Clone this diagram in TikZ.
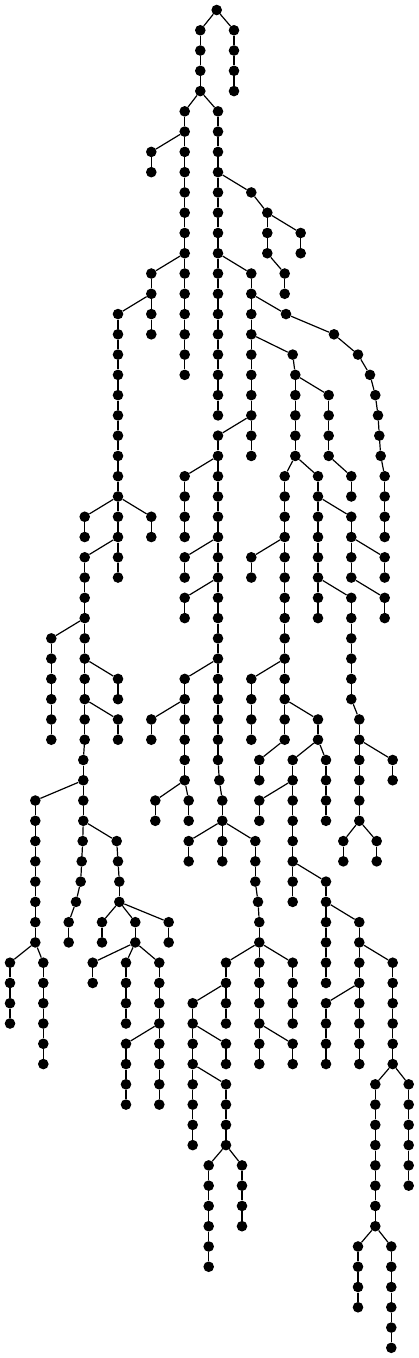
\documentclass[tikz,border=0pt]{standalone}
\usepackage{tikz}
\tikzset{
  dot/.style={circle, fill=black, inner sep=0pt, minimum size=10.6pt},
  edge/.style={line width=1.2pt}
}
% chain of dots: name/x/first row/last row/parent
\def\chains{A/200.3/1/4/R0,
B/234/1/4/R0,
C/184.7/5/18/A4,
D/218/5/20/A4,
E/151.3/7/8/C6,
F/251.3/9/9/D8,
G/267.3/10/12/F9,
H/300.7/11/12/G10,
I/284.7/13/14/G12,
J/151.3/13/14/C12,
K/118/15/24/J14,
L/151.3/15/16/J14,
M/251.3/13/22/D12,
Na/286/15/15/M14,
Nb/334/16/16/Na15,
Nc/358/17/17/Nb16,
Nd/370/18/18/Nc17,
Ne/375.3/19/19/Nd18,
Nf/378/20/20/Ne19,
Ng/379.3/21/21/Nf20,
Nh/380.7/22/22/Ng21,
Ni/384.7/23/26/Nh22,
O/292.7/17/17/M16,
P/295.3/18/22/O17,
Q/328.7/19/22/P18,
S/218/21/37/M20,
Sa/219.3/38/38/S37,
Sb/222.3/39/40/Sa38,
T/184.7/23/26/S22,
U/284.7/23/36/P22,
V/318/23/30/P22,
W/351.3/23/24/Q22,
X/84.7/25/26/K24,
Y/118/25/28/K24,
Z/151.3/25/26/K24,
AB/351.3/25/28/V24,
AC/84.7/27/36/Y26,
ACa/83.3/37/40/AC36,
ACb/82.7/41/41/ACa40,
ACc/81.7/42/42/ACb41,
ACd/80.7/43/43/ACc42,
ACe/76/44/44/ACd43,
ACf/68.7/45/46/ACe44,
AD/184.7/27/28/S26,
AE/251.3/27/28/U26,
AF/384.7/27/28/AB26,
AG/184.7/29/30/S28,
AH/351.3/29/34/V28,
AI/384.7/29/30/AB28,
AJ/51.3/31/36/AC30,
AK/118/33/34/AC32,
AL/184.7/33/38/S32,
AM/251.3/33/36/U32,
AN/118/35/36/AC34,
AO/151.3/35/36/AL34,
AP/318/35/36/U34,
AQ/359.3/35/40/AH34,
AR/259.3/37/38/U36,
AS/292.7/37/44/AP36,
AT/326/37/40/AP36,
AU/392.7/37/38/AQ36,
AV/35.3/39/46/ACa38,
AW/155.3/39/40/AL38,
AX/188.7/39/40/AL38,
AY/259.3/39/40/AS38,
AZ/116.7/41/41/ACa40,
AZa/118/42/42/AZ41,
AZb/119.3/43/44/AZa42,
BA/188.7/41/42/Sb40,
BB/222.3/41/42/Sb40,
BC/255.3/41/43/Sb40,
BCa/258/44/44/BC43,
BCb/259.3/45/46/BCa44,
BD/343.3/41/42/AQ40,
BE/376.7/41/42/AQ40,
BF/326/43/48/AS42,
BG/102/45/46/AZb44,
BH/135.3/45/46/AZb44,
BI/168.7/45/46/AZb44,
BJ/359.3/45/52/BF44,
BK/10/47/50/AV46,
BL/43.3/47/52/AV46,
BM/92.7/47/48/BH46,
BN/126/47/50/BH46,
BO/159.3/47/54/BH46,
BP/226/47/50/BCb46,
BQ/259.3/47/52/BCb46,
BR/292.7/47/50/BCb46,
BS/392.7/47/52/BJ46,
BT/192.7/49/56/BP48,
BU/326/49/52/BJ48,
BV/126/51/54/BO50,
BW/226/51/52/BT50,
BX/292.7/51/52/BQ50,
BY/226/53/56/BT52,
BZ/375.3/53/60/BS52,
CA/408.7/53/58/BS52,
CB/208.7/57/62/BY56,
CC/242/57/60/BY56,
CD/358/61/64/BZ60,
CE/391.3/61/66/BZ60}
\begin{document}
\begin{tikzpicture}[x=1pt, y=1pt]
\useasboundingbox (0,0) rectangle (419,-1358);
\node[dot] (R0) at (216.7,-10) {};
\foreach \c/\x/\a/\b/\p in \chains
{
\foreach \r in {\a,...,\b}
{
\node[dot] (\c\r) at (\x,{-10-20.27*\r}) {};
}
}
\foreach \c/\x/\a/\b/\p in \chains
{
\draw[edge] (\p) -- (\c\a);
\foreach \r in {\a,...,\b}
{
\ifnum\r>\a
\pgfmathtruncatemacro\q{\r-1}
\draw[edge] (\c\q) -- (\c\r);
\fi
}
}
\end{tikzpicture}
\end{document}
